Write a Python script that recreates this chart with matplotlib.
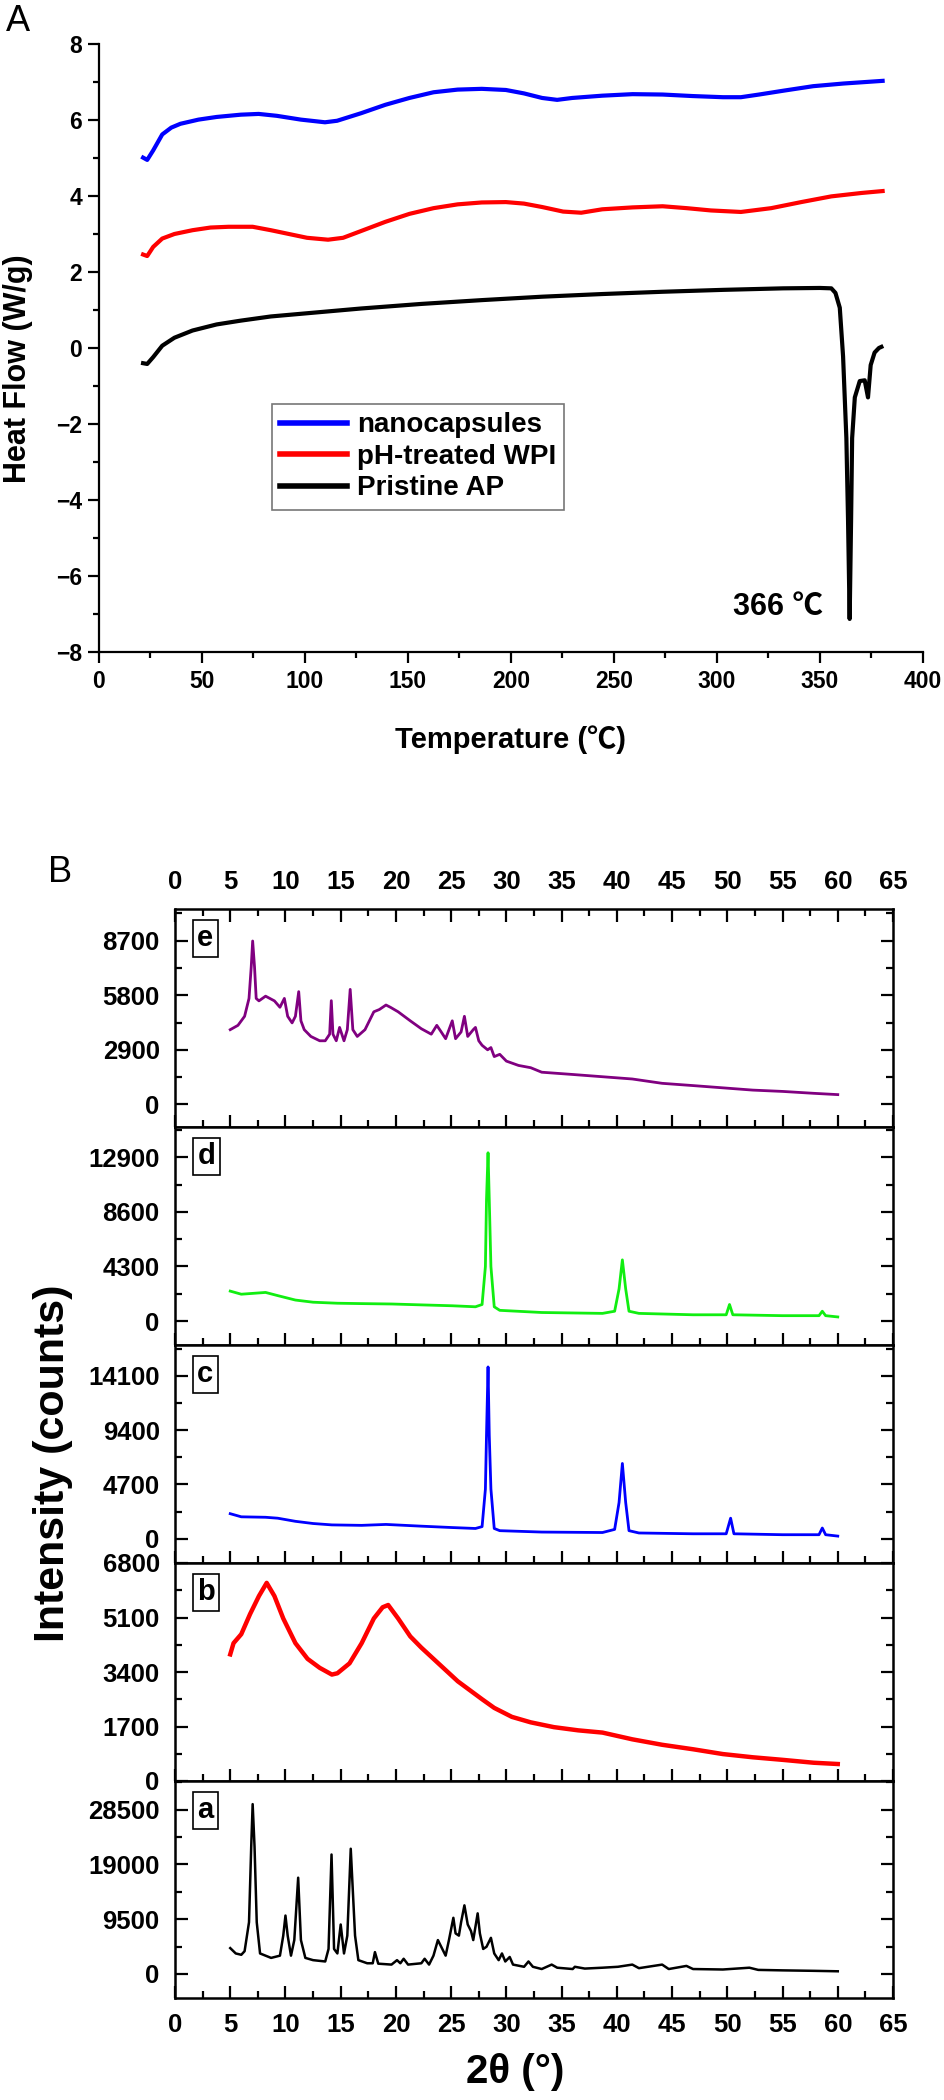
import matplotlib
matplotlib.use('Agg')
import matplotlib.pyplot as plt
from matplotlib.ticker import MultipleLocator
import numpy as np

plt.rcParams['font.family'] = ['Liberation Sans', 'DejaVu Sans', 'Noto Sans CJK SC']
plt.rcParams['font.weight'] = 'bold'
CJK = ['Liberation Sans', 'Noto Sans CJK SC']

# ---------------- panel A : DSC ----------------
nano_t = [21.4, 23.4, 26.3, 30.7, 35.1, 39.5, 48.3, 57.1, 68.8, 77.5, 86.3, 98, 109.7, 115.6,
          127.3, 139, 150.7, 162.4, 174.1, 185.8, 197.5, 206.3, 215.1, 222.4, 229.7, 244.3,
          259, 273.6, 288.2, 302.9, 311.6, 320.4, 332.1, 346.7, 361.4, 380.4]
nano_hf = [5.01, 4.95, 5.2, 5.62, 5.8, 5.9, 6.01, 6.08, 6.14, 6.16, 6.11, 6.01, 5.94, 5.98,
           6.18, 6.4, 6.58, 6.73, 6.8, 6.82, 6.79, 6.7, 6.58, 6.53, 6.58, 6.64,
           6.68, 6.67, 6.63, 6.6, 6.6, 6.67, 6.77, 6.89, 6.96, 7.03]

wpi_t = [21.4, 23.4, 26.3, 30.7, 36.6, 45.4, 54.1, 62.9, 74.6, 83.4, 92.2, 101, 111.2, 118.5,
         127.3, 139, 150.7, 162.4, 174.1, 185.8, 197.5, 206.3, 215.1, 225.3, 234.1, 244.3,
         259, 273.6, 285.3, 297, 311.6, 326.3, 340.9, 355.5, 370.2, 380.4]
wpi_hf = [2.46, 2.42, 2.66, 2.88, 3.0, 3.1, 3.17, 3.19, 3.19, 3.1, 3.0, 2.9, 2.85, 2.9,
          3.08, 3.32, 3.53, 3.68, 3.78, 3.83, 3.84, 3.8, 3.71, 3.59, 3.56, 3.65,
          3.7, 3.73, 3.68, 3.62, 3.58, 3.68, 3.84, 3.99, 4.08, 4.13]

ap_t = [21.4, 23.4, 26.3, 30.7, 36.6, 45.4, 57.1, 68.8, 83.4, 98, 127.3, 156.5, 185.8, 215.1,
        244.3, 273.6, 302.9, 332.1, 350, 355.5, 357.5, 359.6, 361.2, 362.8, 363.6, 364.4,
        365.1, 365.6, 366.9, 369.3, 371.7, 373.3, 374.6, 376.5, 378.6, 379.8]
ap_hf = [-0.4, -0.42, -0.24, 0.06, 0.27, 0.46, 0.62, 0.72, 0.83, 0.9, 1.04, 1.16, 1.26, 1.35,
         1.42, 1.48, 1.53, 1.57, 1.58, 1.57, 1.45, 1.06, -0.22, -2.37, -4.5, -7.13,
         -4.5, -2.37, -1.3, -0.87, -0.85, -1.3, -0.45, -0.12, 0.0, 0.03]

# ---------------- panel B : XRD ----------------
e_x = [5.0, 5.7, 6.3, 6.7, 6.9, 7.03, 7.2, 7.35, 7.6, 8.2, 9.0, 9.5, 9.9, 10.2, 10.6, 10.9, 11.2,
       11.4, 11.7, 12.3, 13.1, 13.6, 14.0, 14.15, 14.3, 14.6, 14.9, 15.3, 15.6, 15.86, 16.1, 16.5,
       17.2, 18.0, 18.5, 19.1, 19.5, 20.2, 21.3, 22.3, 23.2, 23.7, 24.1, 24.5, 25.1, 25.4, 25.9,
       26.2, 26.5, 27.0, 27.2, 27.5, 27.8, 28.3, 28.6, 28.9, 29.4, 30.0, 31.1, 32.2, 33.2, 36.0,
       38.7, 41.4, 44.1, 46.9, 49.6, 52.3, 55.0, 57.8, 60.0]
e_y = [3970, 4200, 4680, 5630, 7300, 8680, 7300, 5630, 5500, 5750, 5500, 5160, 5630, 4680, 4330,
       4680, 5990, 4440, 3970, 3610, 3380, 3380, 3730, 5510, 3730, 3380, 4090, 3380, 3970, 6110,
       3970, 3610, 3970, 4920, 5040, 5280, 5160, 4920, 4440, 4020, 3730, 4200, 3850, 3490, 4440,
       3490, 3850, 4680, 3610, 3970, 4090, 3380, 3140, 2900, 3020, 2540, 2660, 2300, 2070, 1950,
       1710, 1590, 1470, 1350, 1120, 1000, 880, 760, 690, 590, 520]

d_x = [5.0, 6.0, 8.2, 9.3, 10.9, 12.5, 14.7, 16.9, 19.6, 22.3, 25.1, 27.2, 27.8, 28.1, 28.2,
       28.34, 28.45, 28.6, 28.9, 29.4, 33.2, 38.7, 39.8, 40.2, 40.5, 40.8, 41.1, 42.0, 46.9,
       49.9, 50.2, 50.5, 55.0, 58.3, 58.6, 58.9, 60.0]
d_y = [2355, 2110, 2250, 2000, 1650, 1480, 1400, 1370, 1340, 1270, 1200, 1120, 1300, 4290, 9560,
       13250, 9560, 4290, 1120, 840, 670, 600, 770, 2530, 4815, 2530, 770, 600, 490,
       490, 1300, 490, 420, 420, 770, 420, 320]

c_x = [5.0, 6.0, 8.2, 9.3, 10.9, 12.5, 14.2, 16.9, 19.1, 22.3, 25.1, 27.2, 27.8, 28.1, 28.2,
       28.34, 28.45, 28.6, 28.9, 29.4, 33.2, 38.7, 39.8, 40.2, 40.5, 40.8, 41.1, 42.0, 46.9,
       49.9, 50.3, 50.6, 55.0, 58.3, 58.6, 58.9, 60.0]
c_y = [2170, 1900, 1860, 1780, 1510, 1320, 1200, 1160, 1240, 1090, 970, 890, 1050, 4300, 8960,
       14880, 8960, 4300, 890, 700, 580, 540, 810, 3140, 6520, 3140, 700, 500, 430,
       430, 1780, 430, 350, 350, 930, 350, 230]

b_x = [5.0, 5.3, 6.0, 6.8, 7.6, 8.3, 9.0, 9.8, 10.9, 12.0, 13.1, 14.2, 14.7, 15.8, 16.9, 18.0,
       18.8, 19.3, 20.2, 21.3, 22.3, 23.4, 24.5, 25.6, 26.7, 27.8, 28.9, 30.5, 32.2, 34.3, 36.5,
       38.7, 41.4, 44.1, 46.9, 49.6, 52.3, 55.0, 57.8, 60.0]
b_y = [3950, 4300, 4580, 5210, 5770, 6180, 5770, 5070, 4300, 3810, 3530, 3320, 3360, 3670, 4300,
       5070, 5420, 5490, 5070, 4510, 4160, 3810, 3460, 3110, 2830, 2550, 2280, 2000, 1830, 1680,
       1580, 1510, 1300, 1130, 990, 840, 740, 660, 570, 530]

a_x = [5.0, 5.5, 6.0, 6.3, 6.7, 6.9, 7.03, 7.2, 7.4, 7.7, 8.7, 9.5, 9.8, 10.0, 10.2, 10.5, 10.8,
       11.15, 11.4, 11.8, 12.5, 13.6, 13.9, 14.17, 14.4, 14.7, 15.0, 15.3, 15.6, 15.91, 16.3,
       16.6, 17.4, 17.9, 18.1, 18.4, 19.6, 20.1, 20.4, 20.7, 21.1, 22.3, 22.6, 23.0, 23.4, 23.8,
       24.1, 24.5, 24.8, 25.2, 25.4, 25.7, 25.9, 26.2, 26.5, 26.8, 27.0, 27.4, 27.6, 27.9, 28.2,
       28.6, 28.9, 29.3, 29.6, 29.9, 30.3, 30.6, 31.6, 32.0, 32.4, 33.2, 34.1, 34.6, 36.0, 36.2,
       37.1, 38.7, 40.1, 41.4, 42.0, 44.1, 44.7, 46.3, 46.9, 49.6, 52.0, 52.8, 55.0, 57.8, 60.0]
a_y = [4480, 3550, 3320, 3940, 8960, 22090, 29430, 22090, 8960, 3550, 2780, 3170, 6640, 10120,
       6640, 3170, 5870, 16680, 5870, 2780, 2390, 2160, 4330, 20700, 4330, 3550, 8570, 3550, 6640,
       21700, 6640, 2390, 1850, 1850, 3780, 1780, 1620, 2390, 1850, 2630, 1620, 1850, 2630, 1620,
       3170, 5870, 4710, 3170, 5870, 9730, 7030, 6640, 8960, 11890, 8570, 7420, 5870, 10500, 7030,
       4330, 4710, 6260, 3550, 2390, 3550, 2160, 2940, 1620, 1240, 2160, 1240, 850, 1620, 1080,
       850, 1240, 930, 1080, 1240, 1620, 1000, 1620, 850, 1390, 850, 770, 1080, 700, 620, 540, 460]

panel_names = ['e', 'd', 'c', 'b', 'a']
panel_x = [e_x, d_x, c_x, b_x, a_x]
panel_y = [e_y, d_y, c_y, b_y, a_y]
panel_colors = ['#800080', '#11ee11', '#0000ff', '#ff0000', '#000000']
panel_lw = [2.0, 2.0, 2.0, 3.2, 1.8]
panel_ticks = [[0, 2900, 5800, 8700],
               [0, 4300, 8600, 12900],
               [0, 4700, 9400, 14100],
               [0, 1700, 3400, 5100, 6800],
               [0, 9500, 19000, 28500]]
panel_ylim = [(-1200, 10380), (-1890, 15280), (-2100, 16780), (0, 6800), (-4170, 33440)]

W, H = 945, 2100
fig = plt.figure(figsize=(W / 100, H / 100), dpi=100)

# ---- A ----
axA = fig.add_axes([99 / W, 1 - 652 / H, (923 - 99) / W, (652 - 44) / H])
axA.plot(nano_t, nano_hf, color='#0000ff', lw=3, label='nanocapsules')
axA.plot(wpi_t, wpi_hf, color='#ff0000', lw=3, label='pH-treated WPI')
axA.plot(ap_t, ap_hf, color='black', lw=3, label='Pristine AP')
axA.set_xlim(0, 400)
axA.set_ylim(-8, 8)
axA.xaxis.set_major_locator(MultipleLocator(50))
axA.xaxis.set_minor_locator(MultipleLocator(25))
axA.yaxis.set_major_locator(MultipleLocator(2))
axA.yaxis.set_minor_locator(MultipleLocator(1))
for s in ['top', 'right']:
    axA.spines[s].set_visible(False)
for s in ['left', 'bottom']:
    axA.spines[s].set_linewidth(1.6)
axA.tick_params(which='major', direction='out', length=8, width=1.6, labelsize=16.5, pad=4)
axA.tick_params(which='minor', direction='out', length=4.5, width=1.6)
axA.tick_params(axis='x', which='major', pad=5)
for lab in axA.get_xticklabels() + axA.get_yticklabels():
    lab.set_fontweight('bold')
leg = axA.legend(loc='upper left', bbox_to_anchor=(0.210, 0.408), borderaxespad=0,
                 handlelength=2.4, handletextpad=0.35, labelspacing=0.2,
                 borderpad=0.3, fancybox=False, frameon=True, edgecolor='#555555',
                 prop={'weight': 'bold', 'size': 20})
leg.get_frame().set_linewidth(1.2)
for line in leg.get_lines():
    line.set_linewidth(4)
axA.text(308, -7.03, '366 ℃', fontsize=22, fontweight='bold', ha='left', va='baseline',
         family=CJK)
fig.text(18 / W, 1 - 369 / H, 'Heat Flow (W/g)', rotation=90, ha='center', va='center',
         fontsize=22, fontweight='bold')
fig.text(511 / W, 1 - 740 / H, 'Temperature (℃)', ha='center', va='center',
         fontsize=21, fontweight='bold', family=CJK)
fig.text(6 / W, 1 - 31 / H, 'A', fontsize=26, fontweight='normal', ha='left', va='baseline')

# ---- B ----
bounds = [909, 1127, 1345, 1563, 1781, 1998]
for i in range(5):
    top, bot = bounds[i], bounds[i + 1]
    ax = fig.add_axes([175 / W, 1 - bot / H, (893 - 175) / W, (bot - top) / H])
    ax.plot(panel_x[i], panel_y[i], color=panel_colors[i], lw=panel_lw[i])
    ax.set_xlim(0, 65)
    ax.set_ylim(*panel_ylim[i])
    ax.xaxis.set_major_locator(MultipleLocator(5))
    ax.xaxis.set_minor_locator(MultipleLocator(2.5))
    ticks = panel_ticks[i]
    ax.set_yticks(ticks)
    ax.set_yticklabels([str(t) for t in ticks])
    step = ticks[1] - ticks[0]
    ax.set_yticks([t + step / 2 for t in ticks[:-1]] + ([ticks[-1] + step / 2] if i != 3 else []),
                  minor=True)
    for s in ax.spines.values():
        s.set_linewidth(1.8)
    ax.tick_params(which='major', direction='in', length=9, width=1.6, labelsize=18.5,
                   left=True, right=True, bottom=True, top=(i == 0),
                   labelbottom=(i == 4), labeltop=(i == 0), pad=11)
    ax.tick_params(which='minor', direction='in', length=5, width=1.6,
                   left=True, right=True, bottom=True, top=(i == 0))
    for lab in ax.get_xticklabels() + ax.get_yticklabels():
        lab.set_fontweight('bold')
    ax.text(0.031, 0.93, panel_names[i], transform=ax.transAxes, ha='left', va='top',
            fontsize=21, fontweight='bold',
            bbox=dict(boxstyle='square,pad=0.15', fc='white', ec='black', lw=1.2))

fig.text(53 / W, 1 - 1463 / H, 'Intensity (counts)', rotation=90, ha='center', va='center',
         fontsize=31, fontweight='bold')
fig.text(515 / W, 1 - 2072 / H, '2θ (°)', ha='center', va='center', fontsize=29,
         fontweight='bold')
fig.text(48 / W, 1 - 882 / H, 'B', fontsize=26, fontweight='normal', ha='left', va='baseline')

fig.savefig('out.png', dpi=100)
